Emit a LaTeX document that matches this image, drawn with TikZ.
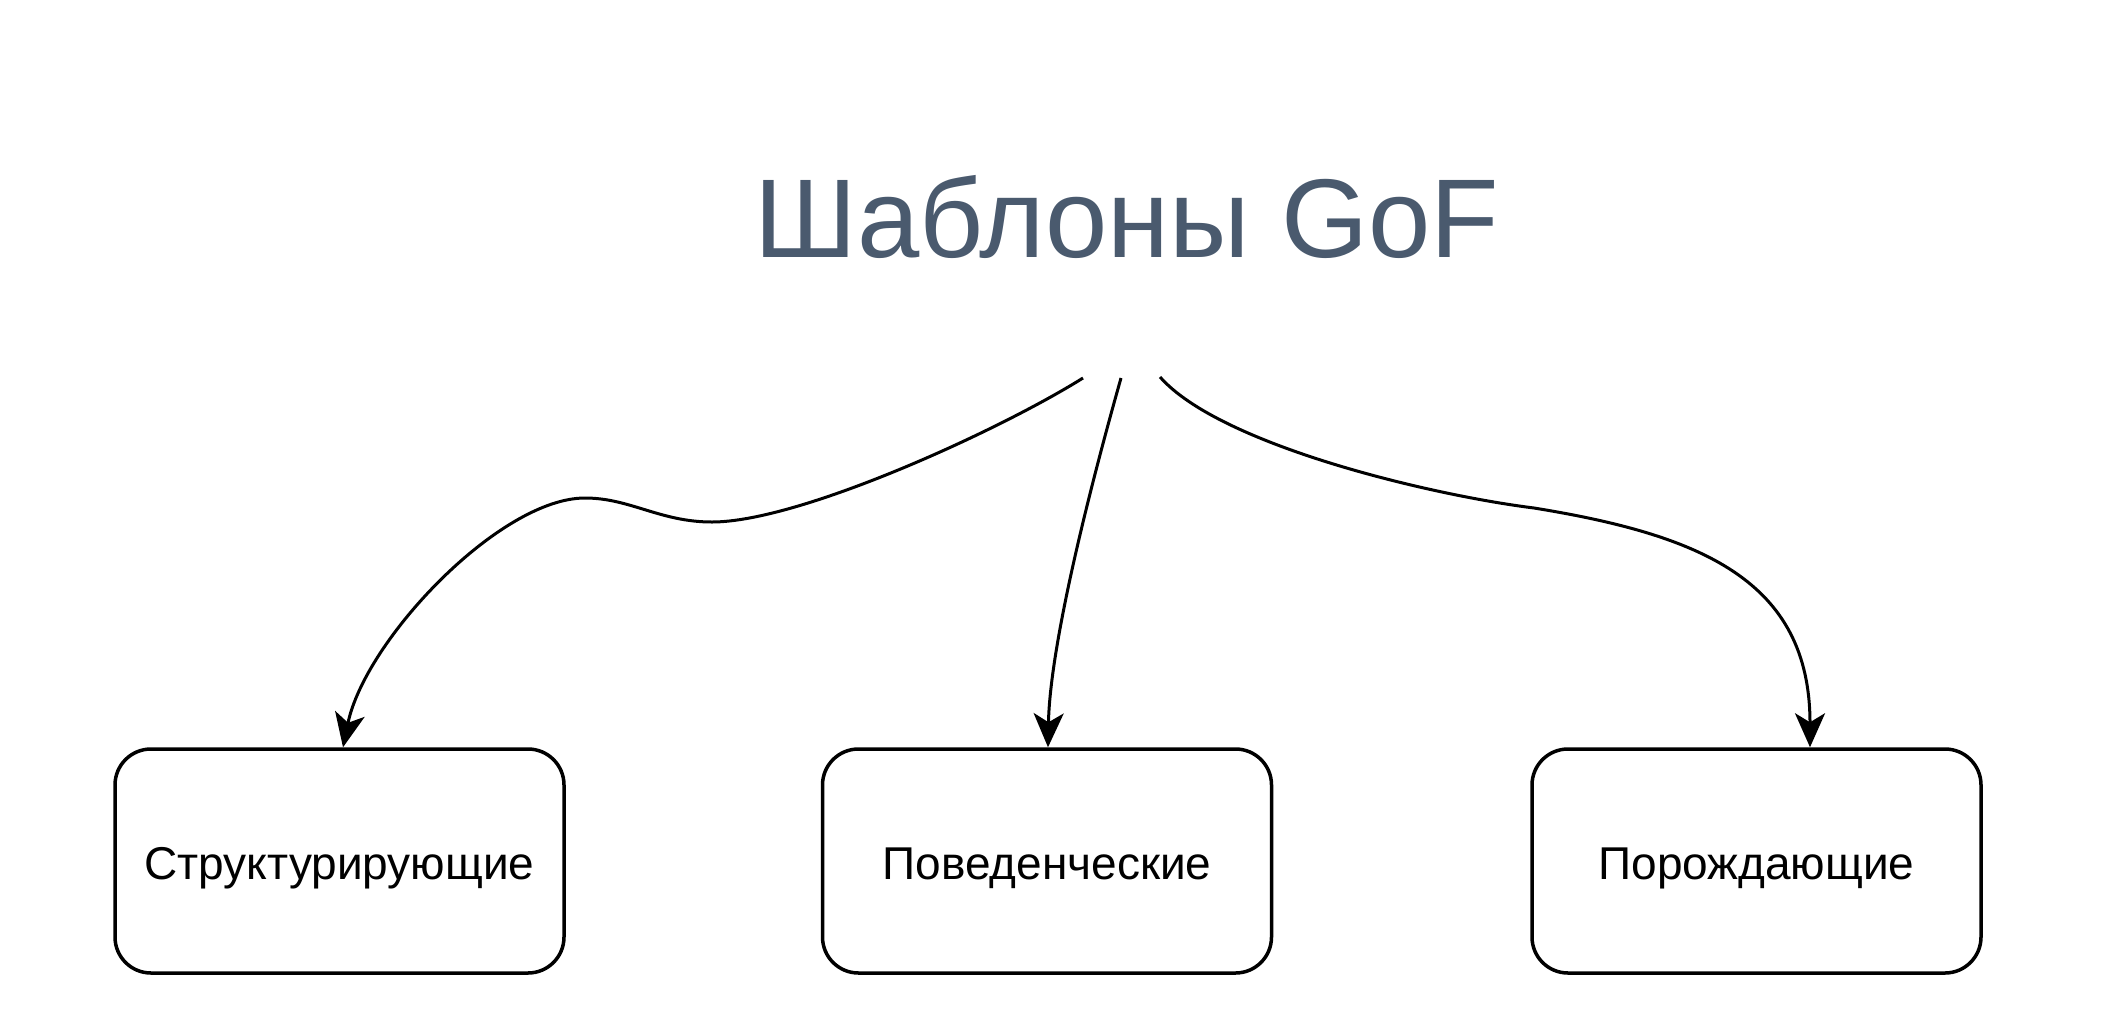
\documentclass[tikz,border=0pt]{standalone}
\usepackage{fontspec}
\setmainfont{Liberation Sans}
\usetikzlibrary{arrows.meta,calc}
\definecolor{titlecol}{RGB}{74,90,110}
\begin{document}
\begin{tikzpicture}[x=1pt,y=-1pt,
  box/.style={draw, line width=3.5pt, rounded corners=36pt, minimum width=449pt,
    minimum height=224pt, font=\fontsize{46}{52}\selectfont, text height=37pt,
    text depth=0pt, inner sep=0pt},
  conn/.style={line width=3pt, -{Stealth[length=34pt,width=30pt,inset=9pt]}}]
\useasboundingbox (0,0) rectangle (2104,1015);
\node[font=\fontsize{112}{130}\selectfont, text=titlecol, anchor=base, inner sep=0pt] (title) at (1127,257) {Шаблоны GoF};
\node[box] (b1) at (339.5,861) {Структурирующие};
\node[box] (b2) at (1047,861) {Поведенческие};
\node[box] (b3) at (1756.5,861) {Порождающие};
\coordinate (s1) at (1083,378);
\coordinate (s2) at (1121,378);
\coordinate (s3) at (1160,377);
\draw[conn] (s1) .. controls (1000,430) and (800,522) .. (712,522)
  .. controls (660,522) and (630,498) .. (585,498)
  .. controls (500,498) and (365,640) .. ($(b1.north)+(3.5,0)$);
\draw[conn] (s2) .. controls (1095,470) and (1050,640) .. ($(b2.north)+(1,0)$);
\draw[conn] (s3) .. controls (1220,445) and (1430,495) .. (1534,508)
  .. controls (1700,535) and (1810,580) .. ($(b3.north)+(53.5,0)$);
\end{tikzpicture}
\end{document}
